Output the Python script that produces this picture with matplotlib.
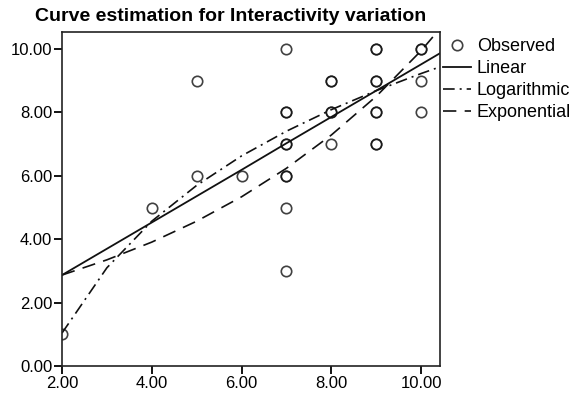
import matplotlib.pyplot as plt
import numpy as np

plt.rcParams['font.family'] = ['Liberation Sans', 'DejaVu Sans']

# observed points (repeats = overlapping cases, drawn darker)
obs_x = [2, 4, 5, 5, 6, 7, 7, 7, 7, 7, 7, 7, 7, 7, 8, 8, 8, 8, 8,
         9, 9, 9, 9, 9, 9, 9, 9, 10, 10, 10, 10]
obs_y = [1, 5, 9, 6, 6, 10, 8, 8, 7, 7, 6, 6, 5, 3, 9, 9, 8, 8, 7,
         10, 10, 9, 9, 8, 8, 7, 7, 10, 10, 9, 8]

# fitted curves
fit_x = [2, 3, 4, 5, 6, 7, 8, 9, 10, 10.42]
linear = [2.87, 3.70, 4.53, 5.36, 6.19, 7.03, 7.86, 8.69, 9.52, 9.87]
logarithmic = [1.04, 3.10, 4.57, 5.70, 6.63, 7.41, 8.09, 8.69, 9.23, 9.44]
exponential = [2.87, 3.35, 3.91, 4.57, 5.34, 6.24, 7.29, 8.51, 9.95, 10.65]

xticks = [2, 4, 6, 8, 10]
yticks = [0, 2, 4, 6, 8, 10]

fig = plt.figure(figsize=(5.71, 4.03), dpi=100)
ax = fig.add_axes([0.1086, 0.0918, 0.662, 0.8288])

ax.plot(obs_x, obs_y, 'o', mfc='none', mec='#111111', ms=7.5, mew=1.2,
        alpha=0.8, label='Observed')
ax.plot(fit_x, linear, '-', color='#111111', lw=1.3, label='Linear')
ax.plot(fit_x, logarithmic, color='#111111', lw=1.2,
        dashes=(7, 3, 1.2, 3), label='Logarithmic')
ax.plot(fit_x, exponential, color='#111111', lw=1.2,
        dashes=(8, 5), label='Exponential')

ax.set_xlim(2, 10.42)
ax.set_ylim(0, 10.54)
ax.set_xticks(xticks)
ax.set_yticks(yticks)
ax.set_xticklabels(['%.2f' % t for t in xticks])
ax.set_yticklabels(['%.2f' % t for t in yticks])
ax.tick_params(direction='out', length=6, width=1.3, labelsize=12, pad=1)
for s in ax.spines.values():
    s.set_linewidth(1.2)
    s.set_color('#222222')

fig.text(0.404, 0.96, 'Curve estimation for Interactivity variation',
         ha='center', va='center', fontsize=14, fontweight='bold')

handles, labels = ax.get_legend_handles_labels()
leg = fig.legend(handles, labels, loc='upper left',
                 bbox_to_anchor=(0.775, 0.905), frameon=False,
                 fontsize=13, handlelength=1.6, handletextpad=0.3,
                 labelspacing=0.27, borderaxespad=0, borderpad=0)

fig.savefig('out.png', dpi=100)
